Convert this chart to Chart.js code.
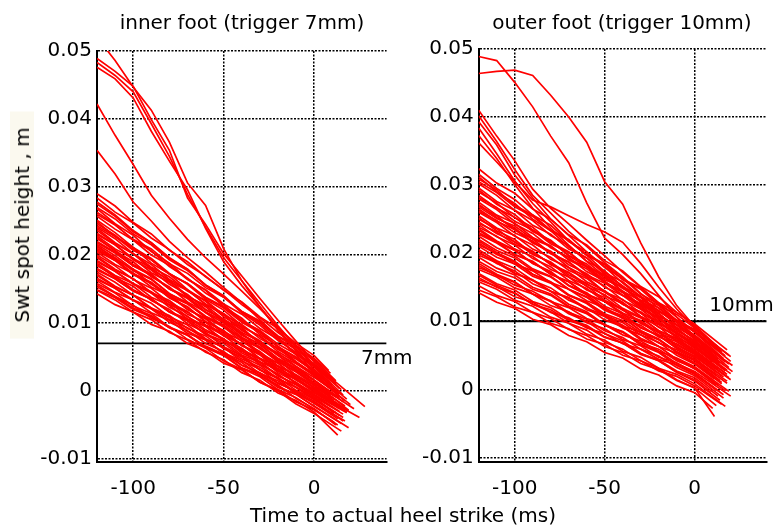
<!DOCTYPE html>
<html>
<head>
<meta charset="utf-8">
<script src="https://cdn.jsdelivr.net/npm/chart.js"></script>
<style>
  body { margin:0; background:#fff; width:781px; height:529px; overflow:hidden; position:relative; font-family:"DejaVu Sans", sans-serif; color:#000; }
  canvas { position:absolute; top:0; }
  .txt { position:absolute; font-size:20px; line-height:24px; white-space:nowrap; }
</style>
</head>
<body>
<canvas id="innerChart" width="420" height="529" style="left:0"></canvas>
<canvas id="outerChart" width="381" height="529" style="left:400px"></canvas>
<div class="txt" style="left:242px; top:10px; transform:translateX(-50%)">inner foot (trigger 7mm)</div>
<div class="txt" style="left:622px; top:10px; transform:translateX(-50%)">outer foot (trigger 10mm)</div>
<div class="txt" style="left:403px; top:503px; transform:translateX(-50%)">Time to actual heel strike (ms)</div>
<div class="txt" style="left:22px; top:225px; transform:translate(-50%,-50%) rotate(-90deg); background:#fbf9ef; padding:0 16px">Swt spot height , m</div>
<script>
// sample times (ms) shared by every trace, values below are in mm
var times = [-120, -110, -100, -90, -80, -70, -60, -50, -40, -30, -20, -10, 0];
var xTicks = [-100, -50, 0];
var yTicks = [-0.01, 0, 0.01, 0.02, 0.03, 0.04, 0.05];
var yTickLabels = ['-0.01', '0', '0.01', '0.02', '0.03', '0.04', '0.05'];
var thresholds = [0.007, 0.010];
var thresholdLabels = ['7mm', '10mm'];

// inner foot traces
var innerLines = [
  [29.0, 27.2, 24.8, 23.1, 20.7, 19.0, 16.8, 14.9, 12.7, 10.8, 8.6, 6.7, 4.6],
  [28.4, 26.3, 24.7, 22.5, 20.8, 18.6, 16.9, 14.8, 13.1, 10.9, 9.2, 7.0, 5.2],
  [27.8, 25.9, 23.6, 21.8, 19.6, 17.9, 15.5, 13.8, 11.5, 9.7, 7.4, 5.7, 3.6],
  [27.0, 25.3, 23.1, 21.5, 19.3, 17.7, 15.6, 13.9, 11.7, 10.2, 8.0, 6.4, 4.4],
  [26.3, 24.5, 22.2, 20.6, 18.3, 16.6, 14.4, 12.7, 10.4, 8.8, 6.5, 4.9, 2.8],
  [25.7, 23.8, 22.2, 20.0, 18.5, 16.4, 14.9, 12.8, 11.3, 9.2, 7.6, 5.5, 3.9],
  [25.1, 23.3, 21.1, 19.5, 17.3, 15.7, 13.5, 11.9, 9.6, 8.0, 5.8, 4.2, 2.2],
  [24.6, 22.9, 20.8, 19.3, 17.2, 15.8, 13.7, 12.2, 10.1, 8.6, 6.5, 5.0, 3.1],
  [24.1, 22.4, 20.2, 18.6, 16.4, 14.9, 12.7, 11.2, 8.9, 7.4, 5.2, 3.6, 1.6],
  [23.6, 21.7, 20.2, 18.2, 16.8, 14.7, 13.3, 11.2, 9.8, 7.7, 6.3, 4.2, 2.6],
  [23.2, 21.5, 19.3, 17.8, 15.7, 14.2, 12.0, 10.5, 8.3, 6.8, 4.7, 3.1, 1.2],
  [22.8, 20.9, 19.5, 17.4, 16.0, 13.9, 12.6, 10.5, 9.1, 7.0, 5.6, 3.6, 2.0],
  [22.4, 20.7, 18.6, 17.2, 15.0, 13.6, 11.5, 10.0, 7.9, 6.5, 4.3, 2.8, 0.9],
  [22.0, 20.4, 18.4, 17.0, 15.0, 13.7, 11.6, 10.3, 8.2, 6.9, 4.8, 3.4, 1.6],
  [21.6, 19.9, 17.9, 16.5, 14.3, 12.9, 10.8, 9.4, 7.3, 5.8, 3.7, 2.3, 0.4],
  [21.2, 19.6, 17.7, 16.4, 14.3, 13.0, 11.0, 9.7, 7.6, 6.3, 4.3, 2.9, 1.1],
  [20.8, 19.2, 17.1, 15.8, 13.7, 12.3, 10.2, 8.9, 6.7, 5.4, 3.3, 1.9, 0.0],
  [20.4, 18.6, 17.3, 15.3, 14.0, 12.0, 10.7, 8.7, 7.4, 5.4, 4.1, 2.1, 0.6],
  [20.0, 18.4, 16.4, 15.1, 13.0, 11.7, 9.6, 8.2, 6.1, 4.8, 2.7, 1.3, -0.5],
  [19.6, 17.8, 16.5, 14.5, 13.3, 11.3, 10.1, 8.1, 6.9, 4.8, 3.6, 1.6, 0.2],
  [19.2, 17.6, 15.7, 14.4, 12.3, 11.0, 9.0, 7.7, 5.6, 4.3, 2.3, 0.9, -0.9],
  [18.8, 17.0, 15.8, 13.8, 12.6, 10.6, 9.5, 7.5, 6.3, 4.3, 3.1, 1.1, -0.3],
  [18.4, 16.9, 14.9, 13.6, 11.6, 10.3, 8.3, 7.0, 5.1, 3.8, 1.8, 0.5, -1.3],
  [18.0, 16.5, 14.7, 13.5, 11.6, 10.4, 8.4, 7.3, 5.3, 4.2, 2.2, 1.0, -0.7],
  [17.5, 16.0, 14.1, 12.9, 10.9, 9.7, 7.7, 6.4, 4.4, 3.2, 1.2, -0.1, -1.8],
  [17.0, 15.3, 14.1, 12.2, 11.1, 9.2, 8.1, 6.2, 5.0, 3.1, 2.0, 0.1, -1.2],
  [16.6, 15.1, 13.3, 12.1, 10.1, 8.9, 7.0, 5.8, 3.8, 2.6, 0.7, -0.5, -2.3],
  [16.2, 14.5, 13.4, 11.5, 10.4, 8.5, 7.5, 5.6, 4.5, 2.6, 1.5, -0.4, -1.7],
  [15.8, 14.4, 12.5, 11.4, 9.4, 8.3, 6.4, 5.2, 3.3, 2.1, 0.2, -1.0, -2.7],
  [15.3, 13.9, 12.2, 11.1, 9.3, 8.2, 6.4, 5.3, 3.4, 2.4, 0.5, -0.5, -2.2],
  [14.8, 13.4, 11.6, 10.5, 8.6, 7.5, 5.7, 4.6, 2.7, 1.6, -0.3, -1.4, -3.1],
  [14.3, 12.7, 11.6, 9.8, 8.8, 7.0, 5.9, 4.1, 3.1, 1.3, 0.2, -1.6, -2.8],
  [27.5, 25.7, 23.4, 21.8, 19.5, 17.9, 15.6, 14.0, 11.6, 10.0, 7.7, 6.1, 4.0],
  [21.0, 19.4, 17.3, 15.9, 13.7, 12.4, 10.2, 8.8, 6.7, 5.3, 3.1, 1.7, -0.2],
  [26.8, 24.6, 22.9, 20.5, 18.8, 16.5, 14.8, 12.4, 10.7, 8.3, 6.6, 4.3, 2.4],
  [26.0, 24.4, 22.3, 20.9, 18.7, 17.3, 15.2, 13.8, 11.7, 10.3, 8.1, 6.7, 4.8],
  [24.9, 22.7, 21.1, 18.8, 17.2, 14.9, 13.2, 10.9, 9.3, 7.0, 5.3, 3.0, 1.2],
  [24.3, 22.7, 20.7, 19.3, 17.2, 15.8, 13.8, 12.4, 10.3, 8.9, 6.9, 5.4, 3.6],
  [23.9, 21.8, 20.2, 17.9, 16.3, 14.0, 12.4, 10.1, 8.5, 6.2, 4.6, 2.3, 0.5],
  [23.0, 21.5, 19.5, 18.1, 16.1, 14.8, 12.8, 11.4, 9.4, 8.1, 6.1, 4.7, 2.9],
  [22.6, 20.6, 19.0, 16.8, 15.3, 13.1, 11.6, 9.4, 7.8, 5.6, 4.1, 1.9, 0.2],
  [21.8, 20.3, 18.4, 17.1, 15.1, 13.8, 11.9, 10.6, 8.6, 7.3, 5.4, 4.0, 2.3],
  [21.4, 19.4, 17.9, 15.7, 14.2, 12.0, 10.6, 8.4, 6.9, 4.7, 3.2, 1.1, -0.6],
  [20.6, 19.2, 17.2, 16.0, 14.0, 12.8, 10.9, 9.6, 7.7, 6.4, 4.5, 3.2, 1.5],
  [19.8, 17.9, 16.5, 14.4, 13.0, 10.9, 9.5, 7.4, 6.0, 3.9, 2.5, 0.5, -1.1],
  [19.0, 17.6, 15.8, 14.6, 12.7, 11.6, 9.7, 8.5, 6.7, 5.5, 3.6, 2.4, 0.8],
  [18.6, 16.7, 15.4, 13.3, 12.0, 9.9, 8.6, 6.5, 5.2, 3.1, 1.8, -0.3, -1.8],
  [17.8, 16.5, 14.7, 13.5, 11.7, 10.6, 8.8, 7.6, 5.8, 4.7, 2.9, 1.7, 0.1],
  [17.2, 15.4, 14.1, 12.1, 10.8, 8.8, 7.5, 5.5, 4.2, 2.2, 0.9, -1.1, -2.6],
  [16.4, 15.1, 13.4, 12.2, 10.5, 9.3, 7.6, 6.4, 4.7, 3.5, 1.8, 0.6, -0.9],
  [15.6, 13.9, 12.6, 10.7, 9.5, 7.6, 6.3, 4.4, 3.2, 1.3, 0.0, -1.9, -3.3],
  [14.9, 13.7, 12.0, 10.9, 9.3, 8.2, 6.6, 5.4, 3.8, 2.7, 1.1, 0.0, -1.5],
  [52.0, 48.6, 44.7, 41.3, 36.6, 30.6, 27.3, 20.9, 16.2, 12.4, 9.2, 6.0, 3.2],
  [48.9, 47.0, 44.8, 39.9, 35.4, 28.4, 24.5, 20.2, 16.9, 13.6, 10.4, 7.3, 4.3],
  [48.3, 46.4, 44.0, 39.3, 34.5, 28.9, 24.1, 19.6, 16.2, 12.9, 9.6, 6.5, 3.5],
  [47.6, 45.9, 43.1, 38.2, 33.8, 29.6, 23.9, 19.0, 15.5, 12.4, 8.9, 5.9, 2.7],
  [42.2, 37.6, 33.3, 28.8, 25.4, 22.3, 19.6, 17.2, 14.7, 12.1, 9.4, 6.6, 3.8],
  [35.4, 31.9, 27.8, 25.0, 22.0, 19.6, 17.5, 15.2, 13.0, 10.5, 7.9, 5.3, 2.6]
];
var innerEndT = [12, 8, 15, 10, 18, 14, 20, 9, 16, 13, 22, 11, 17, 14, 19, 12, 15, 10, 18, 13,
  16, 11, 14, 9, 17, 12, 15, 10, 13, 19, 13, 11, 28, 25,
  17, 9, 19, 12, 15, 10, 18, 12, 14, 9, 16, 11, 13, 14, 12, 11, 15, 16,
  14, 12, 16, 10, 12, 14];
var innerEndY = [1.5, 3.0, 0.2, 1.8, -1.2, 0.4, -2.0, 1.2, -1.6, -0.4, -2.6, 0.0, -2.2, -1.0, -2.9, -0.9, -2.4, -1.0, -3.2, -1.9,
  -3.4, -2.0, -3.6, -2.2, -4.4, -3.2, -4.8, -3.5, -5.0, -5.4, -6.5, -4.6, -2.3, -3.9,
  -1.5, 2.6, -2.8, 0.9, -2.6, 0.6, -3.1, -0.3, -3.0, -0.6, -3.9, -1.4, -4.1, -2.6, -5.0, -3.3, -5.9, -4.4,
  -0.5, 1.2, -0.6, 0.8, 1.0, -0.8];

// outer foot traces
var outerLines = [
  [32.4, 30.3, 28.8, 26.5, 25.0, 22.7, 21.2, 18.9, 17.4, 15.1, 13.6, 11.3, 9.6],
  [31.6, 29.5, 27.9, 25.6, 24.1, 21.7, 20.2, 17.9, 16.3, 14.0, 12.5, 10.1, 8.4],
  [30.9, 29.3, 27.0, 25.6, 23.4, 22.0, 19.7, 18.3, 16.1, 14.7, 12.4, 11.0, 9.0],
  [30.2, 28.5, 26.3, 24.8, 22.6, 21.1, 18.8, 17.4, 15.1, 13.7, 11.4, 10.0, 7.9],
  [29.6, 27.6, 26.3, 24.1, 22.8, 20.6, 19.3, 17.1, 15.8, 13.6, 12.3, 10.1, 8.6],
  [29.0, 27.4, 25.2, 23.8, 21.6, 20.2, 18.0, 16.6, 14.4, 13.0, 10.8, 9.4, 7.4],
  [28.5, 26.6, 25.3, 23.2, 21.9, 19.7, 18.4, 16.3, 15.0, 12.9, 11.6, 9.5, 8.0],
  [28.0, 26.4, 24.3, 22.9, 20.8, 19.4, 17.3, 15.9, 13.8, 12.4, 10.3, 8.9, 7.0],
  [27.5, 25.6, 24.4, 22.3, 21.1, 19.0, 17.7, 15.7, 14.4, 12.4, 11.1, 9.1, 7.6],
  [27.0, 25.5, 23.4, 22.1, 20.0, 18.7, 16.6, 15.2, 13.1, 11.8, 9.7, 8.4, 6.5],
  [26.5, 24.7, 23.5, 21.5, 20.3, 18.3, 17.0, 15.0, 13.8, 11.8, 10.6, 8.6, 7.2],
  [26.0, 24.5, 22.5, 21.2, 19.1, 17.9, 15.8, 14.5, 12.5, 11.2, 9.1, 7.9, 6.0],
  [25.5, 23.7, 22.6, 20.6, 19.4, 17.5, 16.3, 14.3, 13.2, 11.2, 10.0, 8.1, 6.7],
  [25.0, 23.6, 21.6, 20.3, 18.3, 17.1, 15.1, 13.9, 11.9, 10.6, 8.6, 7.4, 5.6],
  [24.6, 22.9, 21.7, 19.8, 18.7, 16.8, 15.6, 13.7, 12.6, 10.7, 9.5, 7.6, 6.3],
  [24.2, 22.4, 21.2, 19.2, 18.0, 16.0, 14.8, 12.9, 11.7, 9.7, 8.5, 6.5, 5.1],
  [23.8, 22.5, 20.6, 19.5, 17.6, 16.5, 14.6, 13.5, 11.6, 10.5, 8.6, 7.5, 5.8],
  [23.4, 21.6, 20.4, 18.5, 17.3, 15.3, 14.2, 12.2, 11.1, 9.1, 7.9, 6.0, 4.6],
  [23.0, 21.7, 19.8, 18.8, 16.9, 15.8, 13.9, 12.9, 11.0, 9.9, 8.0, 7.0, 5.3],
  [22.5, 20.8, 19.6, 17.7, 16.6, 14.7, 13.5, 11.6, 10.5, 8.6, 7.4, 5.5, 4.2],
  [22.0, 20.4, 19.3, 17.5, 16.5, 14.7, 13.6, 11.8, 10.8, 9.0, 7.9, 6.1, 4.9],
  [21.5, 19.8, 18.7, 16.9, 15.8, 13.9, 12.8, 10.9, 9.8, 8.0, 6.9, 5.0, 3.7],
  [21.0, 19.4, 18.4, 16.6, 15.6, 13.8, 12.8, 11.1, 10.1, 8.3, 7.3, 5.5, 4.3],
  [20.5, 18.9, 17.8, 16.0, 14.9, 13.1, 12.0, 10.2, 9.2, 7.3, 6.3, 4.4, 3.2],
  [20.0, 18.8, 17.1, 16.1, 14.4, 13.4, 11.7, 10.7, 9.0, 8.0, 6.3, 5.3, 3.8],
  [19.4, 17.8, 16.8, 15.0, 14.0, 12.2, 11.2, 9.4, 8.4, 6.6, 5.6, 3.8, 2.6],
  [18.8, 17.3, 16.4, 14.7, 13.8, 12.1, 11.1, 9.4, 8.5, 6.8, 5.9, 4.2, 3.1],
  [18.2, 16.7, 15.7, 14.0, 13.0, 11.3, 10.3, 8.6, 7.6, 5.9, 4.9, 3.2, 2.0],
  [17.6, 16.5, 14.9, 14.0, 12.3, 11.4, 9.8, 8.9, 7.3, 6.4, 4.7, 3.9, 2.4],
  [17.0, 15.5, 14.6, 12.9, 12.0, 10.3, 9.4, 7.7, 6.8, 5.1, 4.2, 2.5, 1.4],
  [16.4, 15.0, 14.1, 12.5, 11.7, 10.1, 9.2, 7.6, 6.8, 5.2, 4.3, 2.7, 1.7],
  [15.8, 14.7, 13.1, 12.2, 10.6, 9.7, 8.1, 7.2, 5.6, 4.7, 3.1, 2.2, 0.8],
  [15.2, 13.8, 12.9, 11.3, 10.4, 8.8, 7.9, 6.3, 5.4, 3.8, 2.9, 1.3, 0.2],
  [14.6, 13.6, 12.1, 11.3, 9.7, 8.9, 7.4, 6.6, 5.0, 4.2, 2.7, 1.9, 0.5],
  [14.2, 12.8, 11.9, 10.3, 9.5, 7.9, 7.0, 5.4, 4.6, 3.0, 2.1, 0.5, -0.5],
  [26.8, 25.1, 24.0, 22.1, 21.0, 19.1, 18.0, 16.1, 15.0, 13.1, 12.0, 10.1, 8.8],
  [31.2, 29.0, 27.3, 25.0, 23.3, 20.9, 19.3, 16.9, 15.2, 12.9, 11.2, 8.8, 7.0],
  [30.5, 28.9, 26.8, 25.4, 23.3, 21.9, 19.8, 18.4, 16.2, 14.9, 12.7, 11.3, 9.4],
  [29.3, 27.2, 25.7, 23.4, 21.8, 19.6, 18.0, 15.8, 14.2, 12.0, 10.4, 8.2, 6.4],
  [28.2, 26.7, 24.7, 23.4, 21.4, 20.1, 18.1, 16.8, 14.8, 13.5, 11.5, 10.2, 8.4],
  [27.2, 25.2, 23.7, 21.6, 20.1, 17.9, 16.5, 14.3, 12.8, 10.7, 9.2, 7.0, 5.4],
  [26.2, 24.8, 23.0, 21.8, 19.9, 18.7, 16.8, 15.6, 13.8, 12.6, 10.7, 9.5, 7.8],
  [25.2, 23.3, 22.0, 19.9, 18.6, 16.5, 15.2, 13.1, 11.8, 9.7, 8.4, 6.3, 4.8],
  [24.4, 23.1, 21.3, 20.2, 18.4, 17.2, 15.4, 14.3, 12.5, 11.4, 9.6, 8.4, 6.8],
  [23.6, 21.8, 20.5, 18.5, 17.2, 15.2, 13.9, 11.9, 10.6, 8.6, 7.3, 5.4, 3.9],
  [22.8, 21.5, 19.8, 18.7, 16.9, 15.8, 14.0, 12.9, 11.2, 10.1, 8.3, 7.2, 5.6],
  [21.8, 20.1, 18.8, 16.9, 15.7, 13.8, 12.6, 10.7, 9.4, 7.5, 6.3, 4.4, 3.0],
  [21.2, 20.0, 18.4, 17.4, 15.7, 14.7, 13.0, 12.0, 10.4, 9.4, 7.7, 6.7, 5.2],
  [20.2, 18.5, 17.4, 15.5, 14.4, 12.5, 11.4, 9.5, 8.4, 6.5, 5.4, 3.5, 2.2],
  [19.7, 18.6, 17.0, 16.0, 14.4, 13.5, 11.9, 10.9, 9.3, 8.4, 6.8, 5.8, 4.4],
  [18.5, 16.9, 15.8, 14.0, 12.9, 11.1, 10.0, 8.2, 7.1, 5.3, 4.2, 2.5, 1.2],
  [17.9, 16.8, 15.3, 14.4, 12.9, 12.0, 10.4, 9.5, 8.0, 7.1, 5.6, 4.6, 3.3],
  [16.8, 15.3, 14.2, 12.5, 11.4, 9.7, 8.7, 6.9, 5.9, 4.2, 3.1, 1.4, 0.2],
  [16.1, 15.1, 13.6, 12.8, 11.3, 10.5, 9.0, 8.2, 6.7, 5.9, 4.4, 3.6, 2.3],
  [41.0, 37.2, 33.6, 29.4, 26.6, 24.3, 21.9, 19.6, 17.2, 15.0, 12.7, 10.6, 8.4],
  [40.2, 36.4, 32.3, 28.5, 25.9, 23.2, 21.0, 18.6, 16.5, 14.1, 11.9, 9.8, 7.6],
  [39.3, 35.9, 31.5, 28.1, 25.0, 22.6, 20.2, 18.0, 15.6, 13.5, 11.1, 9.0, 6.9],
  [38.4, 34.6, 30.6, 27.3, 24.6, 21.8, 19.7, 17.3, 15.1, 12.8, 10.6, 8.3, 6.2],
  [37.3, 33.9, 30.1, 26.6, 23.7, 21.2, 18.8, 16.6, 14.3, 12.2, 10.0, 7.7, 5.4],
  [36.2, 33.4, 30.5, 27.8, 26.8, 25.5, 24.2, 23.1, 21.6, 18.5, 15.0, 11.8, 9.0],
  [48.9, 48.3, 45.1, 41.5, 37.2, 33.3, 27.4, 22.2, 19.8, 17.0, 13.8, 10.6, 7.6],
  [46.4, 46.7, 46.9, 46.1, 43.2, 40.0, 36.3, 30.5, 27.2, 21.5, 16.5, 12.3, 9.2]
];
var outerEndT = [18, 14, 20, 12, 17, 21, 15, 11, 19, 16, 13, 20, 14, 18, 10, 15, 17, 12, 19, 14,
  16, 11, 18, 13, 15, 20, 12, 16, 14, 9, 13, 17, 11, 15, 10, 19,
  16, 13, 18, 20, 14, 17, 12, 21, 15, 13, 17, 20, 12, 18, 14, 19, 12, 16,
  16, 19, 13, 17, 11, 15, 12, 14];
var outerEndY = [5.8, 5.6, 4.8, 5.3, 4.9, 3.5, 4.6, 4.5, 3.7, 3.0, 4.4, 2.3, 3.8, 2.2, 4.0, 2.0, 2.4, 2.0, 1.7, 1.3,
  1.8, 1.5, 0.9, 0.6, 0.8, -1.0, 0.6, -1.3, -0.4, -0.5, -1.0, -2.5, -4.0, -2.2, -2.8, 5.0,
  3.6, 6.2, 2.8, 4.1, 2.6, 4.0, 2.5, 2.6, 1.0, 3.0, -0.2, 1.4, -0.1, 1.2, -1.6, -0.3, -2.4, -0.8,
  4.5, 3.2, 3.9, 2.7, 3.1, 5.5, 4.5, 5.7];

var xMin = -120, xMax = 40;

var thresholdLabel = {
  id: 'thresholdLabel',
  afterDatasetsDraw: function (chart, args, o) {
    var ctx = chart.ctx;
    var y = chart.scales.y.getPixelForValue(o.value);
    ctx.save();
    ctx.font = '20px "DejaVu Sans"';
    ctx.fillStyle = '#000';
    ctx.textAlign = 'right';
    ctx.textBaseline = 'middle';
    ctx.fillText(o.text, chart.chartArea.right + o.dx, y + o.dy);
    ctx.restore();
  }
};

function makeChart(id, lines, endT, endY, k, yMin, pad, yWidth, labelDx, labelDy) {
  var datasets = lines.map(function (vals, i) {
    var pts = vals.map(function (v, j) { return { x: times[j], y: v / 1000 }; });
    pts.push({ x: endT[i], y: endY[i] / 1000 });
    return { data: pts, borderColor: '#ff0000', borderWidth: 1.7, pointRadius: 0, tension: 0, fill: false, order: 0 };
  });
  datasets.push({
    data: [{ x: xMin, y: thresholds[k] }, { x: xMax, y: thresholds[k] }],
    borderColor: '#000', borderWidth: 1.8, pointRadius: 0, order: 1
  });
  return new Chart(id, {
    type: 'line',
    data: { datasets: datasets },
    plugins: [thresholdLabel],
    options: {
      responsive: false,
      animation: false,
      devicePixelRatio: 1,
      layout: { padding: pad },
      plugins: {
        legend: { display: false },
        tooltip: { enabled: false },
        thresholdLabel: { value: thresholds[k], text: thresholdLabels[k], dx: labelDx, dy: labelDy }
      },
      scales: {
        x: {
          type: 'linear', min: xMin, max: xMax,
          afterBuildTicks: function (s) { s.ticks = xTicks.map(function (v) { return { value: v }; }); },
          afterFit: function (s) { s.height = 67; },
          grid: { color: '#000', lineWidth: 1.5, drawTicks: false },
          border: { display: true, color: '#000', width: 2, dash: [2, 1.5] },
          ticks: { color: '#000', font: { family: 'DejaVu Sans', size: 20 }, padding: 15, maxRotation: 0 }
        },
        y: {
          type: 'linear', min: yMin, max: 0.05,
          afterBuildTicks: function (s) { s.ticks = yTicks.map(function (v) { return { value: v }; }); },
          afterFit: function (s) { s.width = yWidth; },
          grid: { color: '#000', lineWidth: 1.5, drawTicks: false },
          border: { display: true, color: '#000', width: 2, dash: [2, 1.5] },
          ticks: {
            color: '#000', font: { family: 'DejaVu Sans', size: 20 }, padding: 5,
            callback: function (v) {
              var i = yTicks.findIndex(function (t) { return Math.abs(t - v) < 1e-9; });
              return i < 0 ? '' : yTickLabels[i];
            }
          }
        }
      }
    }
  });
}

makeChart('innerChart', innerLines, innerEndT, innerEndY, 0, -0.01044, { left: 0, top: 51, right: 33.4, bottom: 0 }, 97, 26, 15);
makeChart('outerChart', outerLines, outerEndT, outerEndY, 1, -0.01068, { left: 0, top: 49, right: 14.3, bottom: 0 }, 78.7, 7, -15);
</script>
</body>
</html>
